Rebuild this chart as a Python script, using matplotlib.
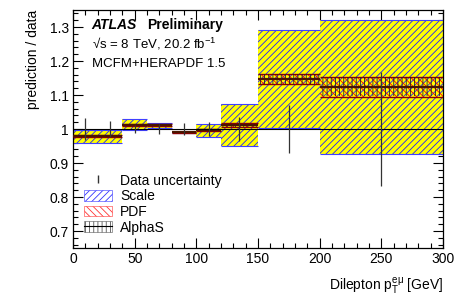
import numpy as np
import matplotlib
matplotlib.use('Agg')
import matplotlib.pyplot as plt
from matplotlib.patches import Patch
from matplotlib.lines import Line2D
from matplotlib.ticker import MultipleLocator, FormatStrFormatter

plt.rcParams['font.family'] = ['Liberation Sans', 'DejaVu Sans']
plt.rcParams['mathtext.fontset'] = 'custom'
plt.rcParams['mathtext.rm'] = 'Liberation Sans'
plt.rcParams['mathtext.it'] = 'Liberation Sans'
plt.rcParams['mathtext.default'] = 'regular'
plt.rcParams['hatch.linewidth'] = 0.6

# prediction bins (dilepton pT, GeV)
bin_edges = [0, 40, 60, 80, 100, 120, 150, 200, 300]
nominal = [0.980, 1.013, 1.011, 0.990, 0.997, 1.011, 1.148, 1.125]
scale_lo = [0.958, 0.998, 1.002, 0.988, 0.976, 0.950, 1.004, 0.927]
scale_hi = [0.998, 1.031, 1.019, 0.992, 1.015, 1.073, 1.291, 1.320]
pdf_lo = [0.977, 1.010, 1.008, 0.988, 0.994, 1.005, 1.133, 1.095]
pdf_hi = [0.983, 1.016, 1.014, 0.992, 1.000, 1.017, 1.163, 1.154]
alphas_lo = [0.977, 1.010, 1.008, 0.988, 0.994, 1.006, 1.134, 1.097]
alphas_hi = [0.983, 1.016, 1.014, 0.992, 1.000, 1.016, 1.162, 1.152]

# data points (ratio to data = 1)
data_x = [10, 30, 50, 70, 90, 110, 135, 175, 250]
data_err = [0.032, 0.023, 0.013, 0.016, 0.018, 0.020, 0.035, 0.070, 0.167]

edges = np.array(bin_edges)
left = edges[:-1]
width = np.diff(edges)
nominal = np.array(nominal)

fig = plt.figure(figsize=(4.57, 2.97), dpi=100)
ax = fig.add_axes([0.16, 0.165, 0.809, 0.801])

# scale band
slo, shi = np.array(scale_lo), np.array(scale_hi)
ax.bar(left, shi - slo, width=width, bottom=slo, align='edge',
       facecolor='#ffff00', edgecolor='#2020ff', hatch='/////', linewidth=0, zorder=2)
ax.hlines(slo, left, edges[1:], color='#4040ff', lw=0.8, zorder=2)
ax.hlines(shi, left, edges[1:], color='#4040ff', lw=0.8, zorder=2)

# PDF band
plo, phi = np.array(pdf_lo), np.array(pdf_hi)
ax.bar(left, phi - plo, width=width, bottom=plo, align='edge',
       facecolor='none', edgecolor='#ff0000', hatch='\\\\\\\\\\', linewidth=0, zorder=3)
ax.hlines(plo, left, edges[1:], color='#8b0000', lw=1.0, zorder=3)
ax.hlines(phi, left, edges[1:], color='#8b0000', lw=1.0, zorder=3)

# alphaS band
alo, ahi = np.array(alphas_lo), np.array(alphas_hi)
ax.bar(left, ahi - alo, width=width, bottom=alo, align='edge',
       facecolor='none', edgecolor='#222222', hatch='||||', linewidth=0, zorder=4)

# nominal line
ax.hlines(nominal, left, edges[1:], color='#4a1500', lw=1.6, zorder=4)

# unity line and data uncertainty
ax.axhline(1.0, color='black', lw=0.8, zorder=5)
ax.errorbar(data_x, np.ones(len(data_x)), yerr=data_err, fmt='none',
            ecolor='#333333', elinewidth=0.9, capsize=0, zorder=6)

ax.set_xlim(0, 300)
ax.set_ylim(0.65, 1.35)
ax.xaxis.set_major_locator(MultipleLocator(50))
ax.xaxis.set_minor_locator(MultipleLocator(10))
ax.yaxis.set_major_locator(MultipleLocator(0.1))
ax.yaxis.set_minor_locator(MultipleLocator(0.02))
ax.yaxis.set_major_formatter(FormatStrFormatter('%g'))
ax.tick_params(which='both', direction='in', top=True, right=True, labelsize=10, width=0.8)
ax.tick_params(which='major', length=7, pad=3)
ax.tick_params(which='minor', length=3.5)
for s in ax.spines.values():
    s.set_linewidth(0.9)

ax.set_ylabel('prediction / data', fontsize=10, loc='top', labelpad=7)
ax.set_xlabel('Dilepton p$_{T}^{e\u03bc}$ [GeV]', fontsize=10, loc='right', labelpad=7)

ax.text(0.05, 0.92, 'ATLAS', transform=ax.transAxes, fontsize=10,
        fontweight='bold', fontstyle='italic')
ax.text(0.20, 0.92, 'Preliminary', transform=ax.transAxes, fontsize=10, fontweight='bold')
ax.text(0.05, 0.84, '\u221as = 8 TeV, 20.2 fb$^{-1}$', transform=ax.transAxes, fontsize=9.5)
ax.text(0.05, 0.76, 'MCFM+HERAPDF 1.5', transform=ax.transAxes, fontsize=9.5)

handles = [
    Line2D([], [], color='#333333', marker='|', linestyle='none', markersize=6),
    Patch(facecolor='white', edgecolor='#3333ff', hatch='/////', linewidth=0.4),
    Patch(facecolor='white', edgecolor='#ff3333', hatch='\\\\\\\\\\', linewidth=0.4),
    (Patch(facecolor='white', edgecolor='#555555', hatch='||||', linewidth=0.4),
     Line2D([], [], color='black', lw=0.8)),
]
labels = ['Data uncertainty', 'Scale', 'PDF', 'AlphaS']
ax.legend(handles, labels, loc='lower left', bbox_to_anchor=(0.0, 0.01),
          frameon=False, fontsize=10, handlelength=2.0, handleheight=0.8,
          labelspacing=0.12, handletextpad=0.6, borderpad=0.3)

fig.savefig('out.png', dpi=100)
